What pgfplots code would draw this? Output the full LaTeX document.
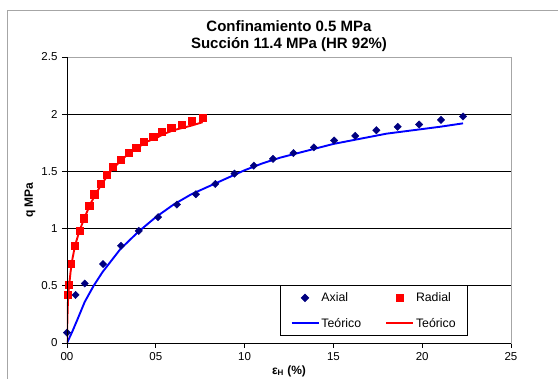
\documentclass[border=0pt]{standalone}
\usepackage{pgfplots}
\pgfplotsset{compat=1.18}
\usepackage{fontspec}
\setmainfont{Liberation Sans}
\definecolor{navyc}{RGB}{0,0,128}
\definecolor{bluec}{RGB}{0,0,255}
\definecolor{redc}{RGB}{255,0,0}
\begin{document}
\begin{tikzpicture}
\path[use as bounding box] (-67pt,-36pt) rectangle (491pt,343pt);
\draw[gray!70, line width=0.9pt] (-59.5pt,-40pt) -- (-59.5pt,333pt) -- (500pt,333pt);
\begin{axis}[
  at={(0pt,0pt)}, anchor=south west,
  scale only axis, width=444pt, height=286pt,
  xmin=0, xmax=25, ymin=0, ymax=2.5,
  xtick={0,5,10,15,20,25}, xticklabels={00,05,10,15,20,25},
  ytick={0,0.5,1,1.5,2,2.5}, yticklabels={0,0.5,1,1.5,2,2.5},
  extra y ticks={0.5,1,1.5,2}, extra y tick labels={},
  extra y tick style={grid=major, major tick length=0pt},
  major grid style={black, line width=0.8pt},
  tick align=outside, xtick pos=bottom, ytick pos=left,
  major tick length=5pt, tick style={black, line width=0.8pt},
  axis line style={gray!70, line width=0.9pt},
  /pgf/number format/assume math mode=true,
  tick label style={font=\fontsize{11.5}{13}\selectfont},
  xticklabel style={yshift=-1pt},
  yticklabel style={xshift=-1pt},
  title={Confinamiento 0.5 MPa\\Succión 11.4 MPa (HR 92\%)},
  title style={font=\bfseries\fontsize{15}{17}\selectfont, align=center, at={(0.5,1)}, anchor=south, inner sep=0pt, yshift=-0.5pt},
  xlabel={ε\textsubscript{H} (\%)},
  xlabel style={font=\bfseries\fontsize{12}{14}\selectfont, at={(axis description cs:0.5,0)}, anchor=center, yshift=-28pt},
  ylabel={q MPa},
  ylabel style={font=\bfseries\fontsize{12}{14}\selectfont, at={(axis description cs:0,0.5)}, anchor=center, yshift=37pt},
  legend columns=2,
  legend cell align=left,
  legend style={at={(rel axis cs:0.48,0.024)}, anchor=south west, draw=black, line width=0.9pt, fill=white,
    font=\fontsize{12.3}{14}\selectfont, inner xsep=10pt, inner ysep=5pt, row sep=11pt,
    /tikz/every even column/.append style={column sep=22pt},
    /tikz/every odd column/.append style={inner xsep=0pt}},
  legend image code/.code={\draw[mark repeat=2,mark phase=2,#1] plot coordinates {(0pt,0pt) (13.5pt,0pt) (27pt,0pt)};},
  after end axis/.code={\draw[black, line width=0.9pt] (rel axis cs:0,1) -- (rel axis cs:0,0) -- (rel axis cs:1,0);},
]
\addplot[only marks, mark=square*, mark size=2.6pt, mark options={rotate=45, fill=navyc, draw=navyc}, color=navyc] coordinates {
(0,0.09) (0.48,0.42) (1.0,0.52) (2.03,0.69) (3.04,0.85) (4.04,0.98) (5.13,1.10) (6.19,1.21) (7.26,1.30) (8.35,1.39) (9.43,1.48) (10.52,1.55) (11.6,1.61) (12.75,1.66) (13.9,1.71) (15.04,1.77) (16.23,1.81) (17.42,1.86) (18.62,1.89) (19.83,1.91) (21.06,1.95) (22.3,1.98)
};
\addlegendentry{Axial}
\addplot[only marks, mark=square*, mark size=3.6pt, mark options={fill=redc, draw=redc}, color=redc] coordinates {
(0.02,0.42) (0.1,0.51) (0.22,0.69) (0.44,0.85) (0.7,0.98) (0.95,1.09) (1.25,1.20) (1.53,1.30) (1.89,1.39) (2.23,1.47) (2.59,1.54) (3.04,1.60) (3.46,1.66) (3.9,1.71) (4.32,1.76) (4.85,1.80) (5.33,1.85) (5.87,1.88) (6.46,1.91) (7.04,1.94) (7.64,1.97)
};
\addlegendentry{Radial}
\addplot[no marks, color=bluec, line width=1.9pt] coordinates {
(0,0) (0.3,0.1) (0.6,0.21) (1.0,0.36) (1.5,0.5) (2.0,0.62) (3.0,0.82) (4.0,0.97) (5.0,1.10) (6.0,1.21) (7.0,1.30) (8.0,1.37) (9.0,1.44) (10.0,1.51) (11.0,1.57) (12.0,1.62) (13.0,1.66) (14.0,1.70) (15.0,1.74) (16.0,1.77) (17.0,1.80) (18.0,1.83) (19.0,1.85) (20.0,1.87) (21.0,1.89) (22.3,1.92)
};
\addlegendentry{Teórico}
\addplot[no marks, color=redc, line width=1.9pt] coordinates {
(0,0) (0.02,0.2) (0.05,0.35) (0.1,0.47) (0.2,0.62) (0.3,0.73) (0.45,0.85) (0.7,0.98) (1.0,1.10) (1.3,1.21) (1.6,1.30) (2.0,1.40) (2.5,1.51) (3.0,1.59) (3.5,1.66) (4.0,1.71) (4.5,1.76) (5.0,1.79) (5.5,1.83) (6.0,1.86) (6.5,1.88) (7.0,1.90) (7.64,1.93)
};
\addlegendentry{Teórico}
\end{axis}
\end{tikzpicture}
\end{document}
